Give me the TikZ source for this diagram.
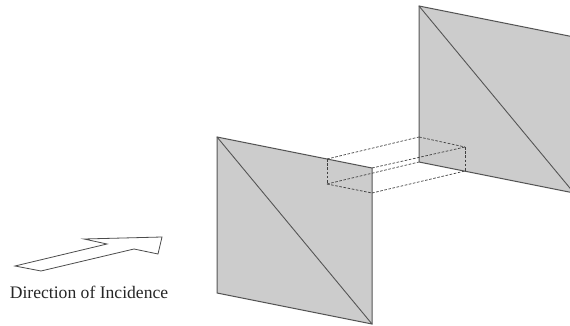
\documentclass[tikz,border=0pt]{standalone}
\usepackage{fontspec}
\setmainfont{Liberation Serif}
\usepackage{xcolor}
\definecolor{platefill}{HTML}{CCCCCC}
\definecolor{plateline}{HTML}{555555}
\begin{document}
\begin{tikzpicture}[x=1pt,y=-1pt,
  plate/.style={draw=plateline,fill=platefill,line width=1pt,line join=miter},
  edge/.style={draw=plateline,line width=.9pt},
  volume/.style={draw=black!75,line width=.7pt,dash pattern=on 2.6pt off 1.6pt},
  pointer/.style={draw=black!70,fill=white,line width=.8pt}]
\useasboundingbox (0,0) rectangle (570,326);
\clip (0,0) rectangle (570,326);
\draw[plate] (217,137) coordinate (a) -- (372,168) coordinate (b) -- (372,324) coordinate (c) -- (217,293) coordinate (d) -- cycle;
\draw[edge] (a)--(c);
\draw[plate] (419,6) coordinate (e) -- (574,37) coordinate (f) -- (574,193) coordinate (g) -- (419,162) coordinate (h) -- cycle;
\draw[edge] (e)--(g);
\coordinate (p) at (327,159); \coordinate (q) at (327,184); \coordinate (r) at (372,193);
\coordinate (s) at (419,137); \coordinate (t) at (465,147); \coordinate (u) at (465,171);
\draw[volume] (p)--(q); \draw[volume] (q)--(r); \draw[volume] (p)--(s); \draw[volume] (q)--(h);
\draw[volume] (b)--(t); \draw[volume] (r)--(u); \draw[volume] (s)--(t); \draw[volume] (t)--(u);
\draw[pointer] (15,266)--(41,271)--(134,249)--(158,254)--(162,237)--(84,239)--(107,244)--cycle;
\node[inner sep=0pt,text=black!85,font=\fontsize{17.6}{20}\selectfont] (label) at (89,292) {Direction of Incidence};
\end{tikzpicture}
\end{document}
